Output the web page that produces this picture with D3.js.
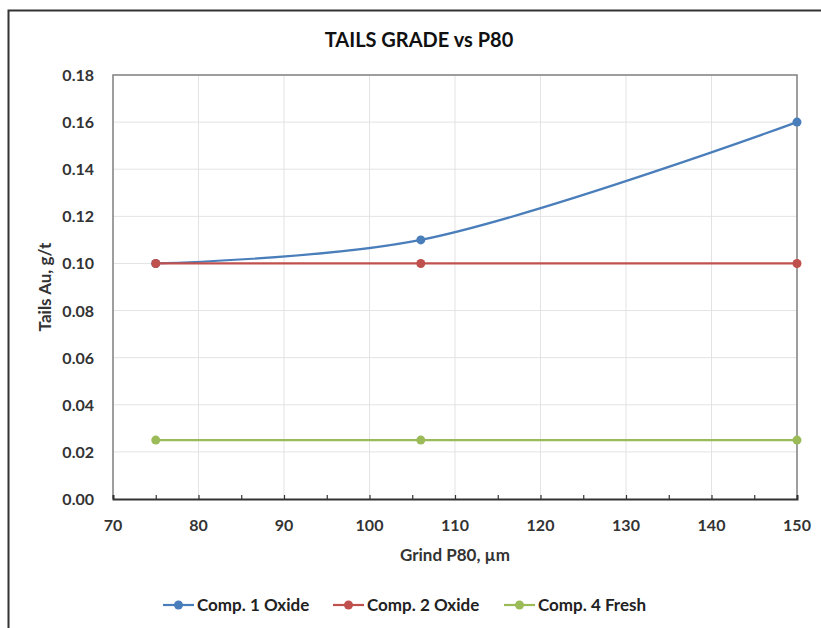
<!DOCTYPE html>
<html>
<head>
<meta charset="utf-8">
<script src="https://cdn.jsdelivr.net/npm/d3@7"></script>
<style>
body { margin: 0; background: #fff; }
text { font-family: Lato, "Open Sans", sans-serif; }
</style>
</head>
<body>
<script>
var grind = [75, 106, 150];
var comp1 = [0.10, 0.11, 0.16];
var comp2 = [0.10, 0.10, 0.10];
var comp4 = [0.025, 0.025, 0.025];
var seriesNames = ["Comp. 1 Oxide", "Comp. 2 Oxide", "Comp. 4 Fresh"];
var seriesColors = ["#4a7ebb", "#c0504d", "#9bbb59"];
var xTicks = [70, 80, 90, 100, 110, 120, 130, 140, 150];
var yTicks = [0, 0.02, 0.04, 0.06, 0.08, 0.10, 0.12, 0.14, 0.16, 0.18];

var width = 821, height = 628;
var plotL = 113, plotR = 797, plotT = 75, plotB = 499;

var svg = d3.select("body").append("svg")
    .attr("width", width)
    .attr("height", height);

// outer chart frame
svg.append("path")
    .attr("d", "M8.5," + height + " V10.5 H" + width)
    .attr("fill", "none")
    .attr("stroke", "#333")
    .attr("stroke-width", 2);

var x = d3.scaleLinear().domain([70, 150]).range([plotL, plotR]);
var y = d3.scaleLinear().domain([0, 0.18]).range([plotB, plotT]);

// grid
svg.append("g").selectAll("line")
    .data(xTicks.slice(1, -1))
    .join("line")
    .attr("x1", d => x(d)).attr("x2", d => x(d))
    .attr("y1", plotT).attr("y2", plotB)
    .attr("stroke", "#e3e3e3");
svg.append("g").selectAll("line")
    .data(yTicks.slice(1, -1))
    .join("line")
    .attr("x1", plotL).attr("x2", plotR)
    .attr("y1", d => y(d)).attr("y2", d => y(d))
    .attr("stroke", "#e3e3e3");

// plot box
svg.append("path")
    .attr("d", "M" + plotL + "," + plotB + " V" + plotT + " H" + plotR + " V" + plotB)
    .attr("fill", "none")
    .attr("stroke", "#7f7f7f")
    .attr("stroke-width", 1.5);

// x axis
var xAxis = svg.append("g")
    .attr("transform", "translate(0," + plotB + ")")
    .call(d3.axisBottom(x).tickValues(d3.range(70, 151, 5)).tickSize(-4).tickFormat(""));
xAxis.select(".domain").attr("stroke", "#333").attr("stroke-width", 2);
xAxis.selectAll(".tick line").attr("stroke", "#333").attr("stroke-width", 1.2);

svg.append("g").selectAll("text")
    .data(xTicks)
    .join("text")
    .attr("x", d => x(d))
    .attr("y", plotB + 32)
    .attr("text-anchor", "middle")
    .attr("font-size", 16)
    .attr("font-weight", "bold")
    .attr("fill", "#333")
    .text(d => d);

svg.append("g").selectAll("text")
    .data(yTicks)
    .join("text")
    .attr("x", plotL - 19)
    .attr("y", d => y(d) + 6)
    .attr("text-anchor", "end")
    .attr("font-size", 16)
    .attr("font-weight", "bold")
    .attr("fill", "#333")
    .text(d => d3.format(".2f")(d));

// titles
svg.append("text")
    .attr("x", 419).attr("y", 47)
    .attr("text-anchor", "middle")
    .attr("font-size", 20)
    .attr("font-weight", "bold")
    .attr("fill", "#111")
    .text("TAILS GRADE vs P80");

svg.append("text")
    .attr("x", 455).attr("y", 561)
    .attr("text-anchor", "middle")
    .attr("font-size", 17)
    .attr("font-weight", "bold")
    .attr("fill", "#333")
    .text("Grind P80, µm");

svg.append("text")
    .attr("transform", "translate(51,287) rotate(-90)")
    .attr("text-anchor", "middle")
    .attr("font-size", 17)
    .attr("font-weight", "bold")
    .attr("fill", "#333")
    .text("Tails Au, g/t");

// series
var allSeries = [comp1, comp2, comp4];
var line = d3.line().x(d => x(d[0])).y(d => y(d[1]));

allSeries.forEach(function(vals, i) {
    var pts = grind.map((g, j) => [g, vals[j]]);
    svg.append("path")
        .datum(pts)
        .attr("d", line.curve(i === 0 ? d3.curveCatmullRom : d3.curveLinear))
        .attr("fill", "none")
        .attr("stroke", seriesColors[i])
        .attr("stroke-width", 2.2);
    svg.append("g").selectAll("circle")
        .data(pts)
        .join("circle")
        .attr("cx", d => x(d[0]))
        .attr("cy", d => y(d[1]))
        .attr("r", 4.5)
        .attr("fill", seriesColors[i]);
});

// legend
var legendX = [163, 333, 504];
var legend = svg.append("g").selectAll("g")
    .data(seriesNames)
    .join("g")
    .attr("transform", (d, i) => "translate(" + legendX[i] + ",605)");
legend.append("line")
    .attr("x1", 0).attr("x2", 31)
    .attr("stroke", (d, i) => seriesColors[i])
    .attr("stroke-width", 2.2);
legend.append("circle")
    .attr("cx", 15.5).attr("r", 4.5)
    .attr("fill", (d, i) => seriesColors[i]);
legend.append("text")
    .attr("x", 34).attr("y", 6)
    .attr("font-size", 17)
    .attr("font-weight", "bold")
    .attr("fill", "#222")
    .text(d => d);
</script>
</body>
</html>
